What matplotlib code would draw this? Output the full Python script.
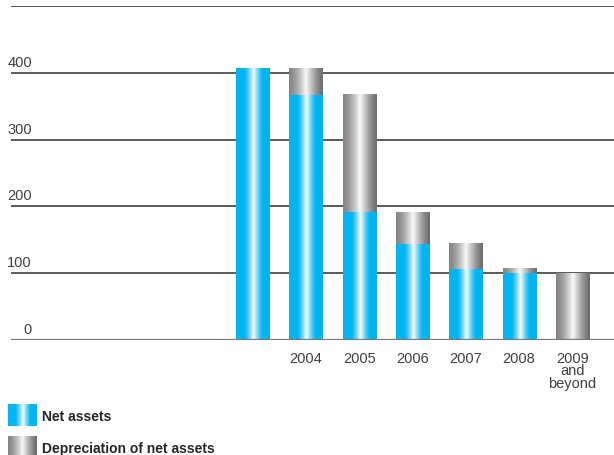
import numpy as np
import matplotlib
matplotlib.use('Agg')
from matplotlib import pyplot as plt
from matplotlib.colors import to_rgb
import matplotlib.transforms as mtransforms

plt.rcParams['font.family'] = ['Liberation Sans', 'DejaVu Sans']

# values (millions)
categories = ['', '2004', '2005', '2006', '2007', '2008', '2009\nand\nbeyond']
net_assets = [407, 367, 191, 144, 106, 100, 0]
depreciation = [0, 40, 176, 47, 38, 6, 100]
y_ticks = [0, 100, 200, 300, 400, 500]
legend_labels = ['Net assets', 'Depreciation of net assets']

CYAN = '#00b5ef'
GREY_L = '#858587'
GREY_R = '#6c6c6e'


def cyan_gradient(n=200):
    t = np.linspace(0, 1, n)
    d = np.abs(t - 0.52) / 0.5
    w = np.clip(1 - d / 0.55, 0, 1) ** 1.3
    w = 0.97 * w
    c = np.array(to_rgb(CYAN))
    rows = c[None, :] * (1 - w[:, None]) + w[:, None]
    return rows[None, :, :]


def grey_gradient(n=200):
    t = np.linspace(0, 1, n)
    left = np.array(to_rgb(GREY_L))
    right = np.array(to_rgb(GREY_R))
    edge = left[None, :] * (1 - t[:, None]) + right[None, :] * t[:, None]
    d = np.abs(t - 0.5) / 0.5
    w = np.clip(1 - d, 0, 1) ** 1.4 * 0.96
    rows = edge * (1 - w[:, None]) + w[:, None]
    return rows[None, :, :]


def fill_bars(ax, bars, grad):
    # paint each bar rectangle with a horizontal gradient image
    for p in bars.patches:
        h = p.get_height()
        if h <= 0:
            continue
        x0, y0, w = p.get_x(), p.get_y(), p.get_width()
        ax.imshow(grad, extent=(x0, x0 + w, y0, y0 + h), aspect='auto',
                  interpolation='bilinear', zorder=3)


fig = plt.figure(figsize=(6.14, 4.56), dpi=100)
W, H = 614, 456
ax = fig.add_axes([11 / W, (H - 341) / H, (W - 11) / W, (341 - 7) / H])

x = np.arange(len(categories))
width = 0.62
b1 = ax.bar(x, net_assets, width, color='none', edgecolor='none', zorder=3)
b2 = ax.bar(x, depreciation, width, bottom=net_assets, color='none',
            edgecolor='none', zorder=3)
fill_bars(ax, b1, cyan_gradient())
fill_bars(ax, b2, grey_gradient())

# grid lines and labels
for v in y_ticks:
    if v == 0:
        ax.axhline(v, color='#7a7a7a', lw=1.6, zorder=4)
    else:
        ax.axhline(v, color='#2e2e2e', lw=1.1, zorder=1)
    trans = mtransforms.offset_copy(ax.get_yaxis_transform(), fig=fig,
                                    x=0, y=4, units='dots')
    ax.text(21 / (W - 11), v, str(v), transform=trans, ha='right', va='bottom',
            fontsize=10.5, color='#404040', clip_on=False)

for xi, lab in zip(x, categories):
    ax.annotate(lab, (xi, 0), xytext=(0, -8), textcoords='offset points',
                ha='center', va='top', fontsize=10.5, color='#404040',
                linespacing=0.85, annotation_clip=False)

ax.set_xlim(-4.53, 6.78)
ax.set_ylim(0, 500)
ax.axis('off')

# legend swatches
for i, (lab, grad) in enumerate(zip(legend_labels, [cyan_gradient(), grey_gradient()])):
    top = 405 + i * 32
    sw = fig.add_axes([8 / W, (H - top - 22) / H, 29 / W, 22 / H])
    sw.imshow(grad, aspect='auto', interpolation='bilinear')
    sw.axis('off')
    fig.text(42 / W, (H - top - 12) / H, lab, ha='left', va='center',
             fontsize=10, fontweight='bold', color='#262626')

fig.savefig('out.png', dpi=100)
